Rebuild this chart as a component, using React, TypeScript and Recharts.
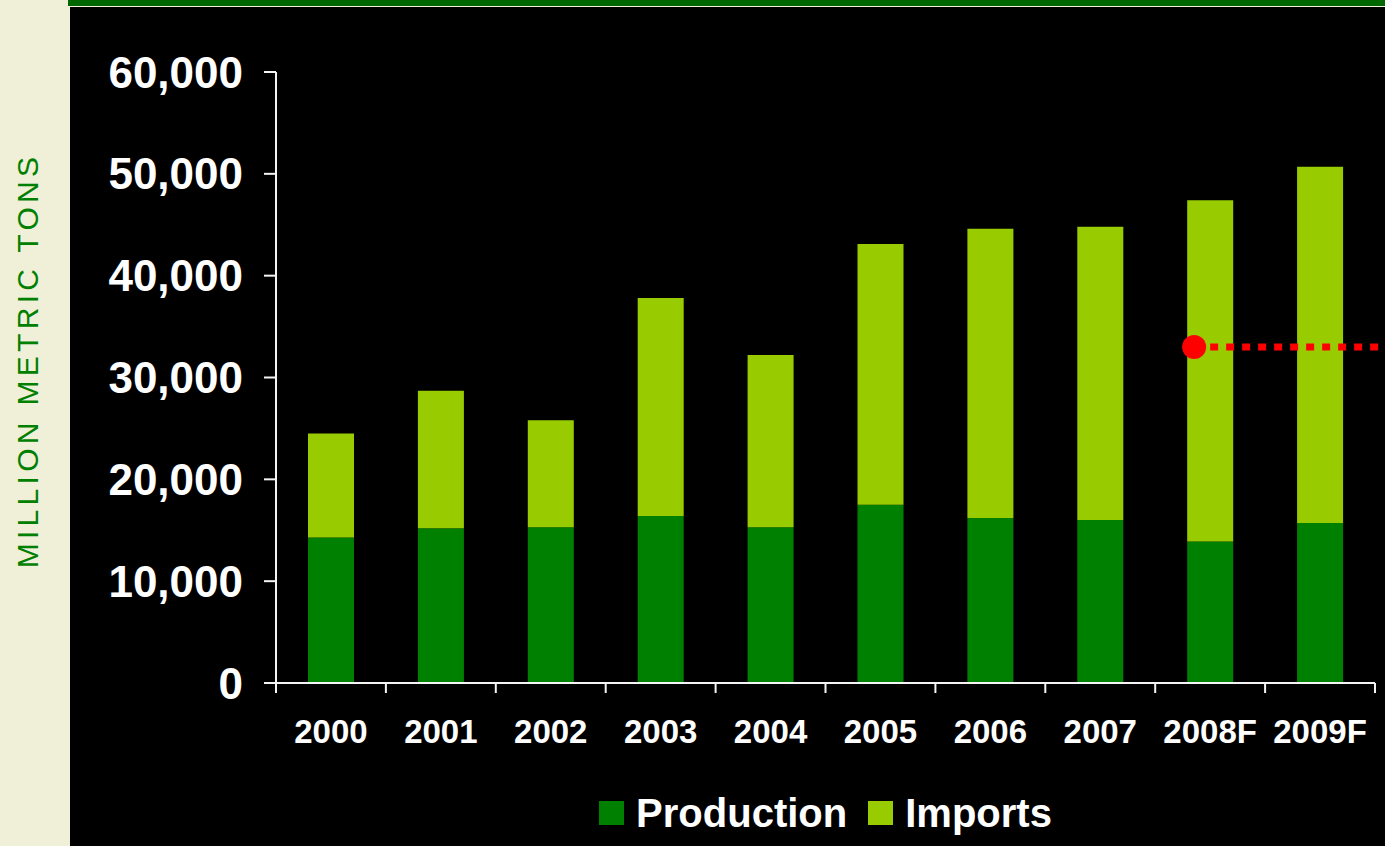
import { BarChart, Bar, XAxis, YAxis, Legend, ReferenceLine } from 'recharts'

const YEARS = ['2000', '2001', '2002', '2003', '2004', '2005', '2006', '2007', '2008F', '2009F']
const PRODUCTION = [14300, 15200, 15300, 16400, 15300, 17500, 16200, 16000, 13900, 15700]
const IMPORTS = [10200, 13500, 10500, 21400, 16900, 25600, 28400, 28800, 33500, 35000]
const Y_TICKS = [0, 10000, 20000, 30000, 40000, 50000, 60000]
const LEGEND_ORDER = ['Production', 'Imports']
const MARKER_VALUE = 33000
const MARKER_FROM = '2008F'
const MARKER_TO = '2009F'

const WIDTH = 1385
const HEIGHT = 846
const MARGIN = { top: 72, right: 10, bottom: 103, left: 0 }
const Y_AXIS_WIDTH = 276
const X_AXIS_HEIGHT = 60
const X_TICK_MARGIN = 37
const BAND = (WIDTH - MARGIN.left - MARGIN.right - Y_AXIS_WIDTH) / YEARS.length

const FONT = '"Liberation Sans", Arial, Helvetica, sans-serif'
const PRODUCTION_COLOR = '#008000'
const IMPORTS_COLOR = '#99cc00'
const AXIS_COLOR = '#f4f4f4'
const MARKER_COLOR = '#ff0000'

const data = YEARS.map((year, i) => ({
  year,
  production: PRODUCTION[i],
  imports: IMPORTS[i],
}))

// category ticks sit on band boundaries in the original, labels in the middle
function YearTick(props: any) {
  const { x, y, payload, index } = props
  const axisY = y - X_TICK_MARGIN
  const left = x - BAND / 2
  const right = x + BAND / 2
  return (
    <g>
      <line x1={left} x2={left} y1={axisY} y2={axisY + 10} stroke={AXIS_COLOR} strokeWidth={2} />
      {index === YEARS.length - 1 && (
        <line x1={right} x2={right} y1={axisY} y2={axisY + 10} stroke={AXIS_COLOR} strokeWidth={2} />
      )}
      <text
        x={x}
        y={y}
        dy="0.71em"
        textAnchor="middle"
        fill="#ffffff"
        fontSize={33}
        fontWeight={700}
        fontFamily={FONT}
      >
        {payload.value}
      </text>
    </g>
  )
}

function TargetMarker(props: any) {
  const { x1, y1, x2 } = props
  return (
    <g>
      <line
        x1={x1}
        y1={y1}
        x2={x2 + BAND / 2 + MARGIN.right}
        y2={y1}
        stroke={MARKER_COLOR}
        strokeWidth={7}
        strokeDasharray="8 8"
      />
      <circle cx={x1 - 16} cy={y1} r={12} fill={MARKER_COLOR} />
    </g>
  )
}

function AxisTitle(props: any) {
  const { viewBox } = props
  const x = viewBox.x + 27
  const y = viewBox.y + viewBox.height / 2 - 17
  return (
    <text
      x={x}
      y={y}
      transform={`rotate(-90, ${x}, ${y})`}
      textAnchor="middle"
      dominantBaseline="central"
      fill="#008000"
      fontSize={30}
      letterSpacing={4.3}
      fontFamily={FONT}
    >
      MILLION METRIC TONS
    </text>
  )
}

function LegendContent({ payload }: any) {
  const items = [...(payload || [])].sort(
    (a: any, b: any) => LEGEND_ORDER.indexOf(a.value) - LEGEND_ORDER.indexOf(b.value)
  )
  return (
    <div style={{ display: 'flex', justifyContent: 'center', alignItems: 'center', gap: 21 }}>
      {items.map((entry: any) => (
        <div key={entry.value} style={{ display: 'flex', alignItems: 'center' }}>
          <span
            style={{ display: 'inline-block', width: 25, height: 24, background: entry.color, marginRight: 12 }}
          />
          <span
            style={{
              color: '#ffffff',
              fontSize: 40,
              fontWeight: 700,
              fontFamily: FONT,
              lineHeight: '40px',
            }}
          >
            {entry.value}
          </span>
        </div>
      ))}
    </div>
  )
}

export default function App() {
  return (
    <div
      style={{
        position: 'absolute',
        left: 0,
        top: 0,
        width: WIDTH,
        height: HEIGHT,
        background: '#f0efd8',
        overflow: 'hidden',
      }}
    >
      <div style={{ position: 'absolute', left: 68, top: 0, right: 0, height: 6, background: '#006600' }} />
      <div style={{ position: 'absolute', left: 70, top: 7, right: 0, bottom: 0, background: '#000000' }} />
      <div style={{ position: 'absolute', left: 0, top: 0 }}>
        <BarChart width={WIDTH} height={HEIGHT} data={data} margin={MARGIN}>
          <XAxis
            dataKey="year"
            height={X_AXIS_HEIGHT}
            interval={0}
            tickLine={false}
            tickSize={0}
            tickMargin={X_TICK_MARGIN}
            axisLine={{ stroke: AXIS_COLOR, strokeWidth: 2 }}
            tick={<YearTick />}
          />
          <YAxis
            width={Y_AXIS_WIDTH}
            domain={[0, 60000]}
            ticks={Y_TICKS}
            interval={0}
            tickSize={12}
            tickMargin={21}
            tickFormatter={(v: number) => v.toLocaleString('en-US')}
            tickLine={{ stroke: AXIS_COLOR, strokeWidth: 2 }}
            axisLine={{ stroke: AXIS_COLOR, strokeWidth: 2 }}
            tick={{ fill: '#ffffff', fontSize: 44, fontWeight: 700, fontFamily: FONT }}
            label={(props: any) => <AxisTitle {...props} />}
          />
          <Legend
            verticalAlign="middle"
            align="center"
            layout="horizontal"
            wrapperStyle={{ top: 793, left: 276, width: 1099, height: 40 }}
            content={<LegendContent />}
          />
          <Bar
            dataKey="production"
            name="Production"
            stackId="total"
            fill={PRODUCTION_COLOR}
            barSize={46}
            isAnimationActive={false}
          />
          <Bar
            dataKey="imports"
            name="Imports"
            stackId="total"
            fill={IMPORTS_COLOR}
            barSize={46}
            isAnimationActive={false}
          />
          <ReferenceLine
            segment={[
              { x: MARKER_FROM, y: MARKER_VALUE },
              { x: MARKER_TO, y: MARKER_VALUE },
            ]}
            shape={(props: any) => <TargetMarker {...props} />}
          />
        </BarChart>
      </div>
    </div>
  )
}
